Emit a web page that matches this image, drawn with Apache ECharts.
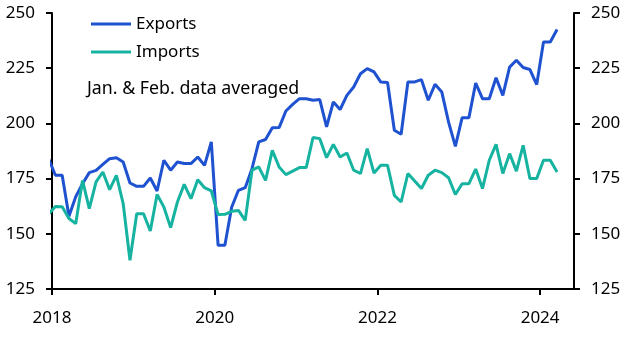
<!DOCTYPE html>
<html>
<head>
<meta charset="utf-8">
<script src="https://cdn.jsdelivr.net/npm/echarts@6/dist/echarts.min.js"></script>
<style>
html,body{margin:0;padding:0;background:#fff;}
#chart{width:625px;height:338px;}
</style>
</head>
<body>
<div id="chart"></div>
<script>
// Monthly data (Jan & Feb averaged each year)
const months = [
  '2017-12',
  '2018-01','2018-02','2018-03','2018-04','2018-05','2018-06','2018-07','2018-08','2018-09','2018-10','2018-11','2018-12',
  '2019-01','2019-02','2019-03','2019-04','2019-05','2019-06','2019-07','2019-08','2019-09','2019-10','2019-11','2019-12',
  '2020-01','2020-02','2020-03','2020-04','2020-05','2020-06','2020-07','2020-08','2020-09','2020-10','2020-11','2020-12',
  '2021-01','2021-02','2021-03','2021-04','2021-05','2021-06','2021-07','2021-08','2021-09','2021-10','2021-11','2021-12',
  '2022-01','2022-02','2022-03','2022-04','2022-05','2022-06','2022-07','2022-08','2022-09','2022-10','2022-11','2022-12',
  '2023-01','2023-02','2023-03','2023-04','2023-05','2023-06','2023-07','2023-08','2023-09','2023-10','2023-11','2023-12',
  '2024-01','2024-02','2024-03'
];
const exportsVals = [
  184,
  176.5,176.5,158,166.8,172.7,177.7,178.7,181.4,184,184.4,182.5,173,
  171.5,171.5,175.3,169.4,183.3,178.8,182.5,181.8,181.8,184.8,181,191.6,
  144.8,144.8,162,169.7,170.9,179.5,191.6,192.7,198,198.1,205.6,208.6,
  211.2,211.2,210.5,210.8,198.4,209.7,206.3,212.7,216.5,222.5,224.8,223.3,
  218.7,218.5,196.9,195.1,218.8,218.8,219.8,210.5,217.7,214.2,200.6,189.6,
  202.6,202.6,218.3,211.2,211.2,220.7,212.7,225.5,228.6,225.3,224.4,217.6,
  236.9,236.9,242.5
];
const importsVals = [
  159,
  162.4,162.3,156.9,154.6,174.2,161.4,173.5,178,170,176.5,163.7,138,
  159.1,159.1,151.3,167.8,162.1,152.8,164.4,172.4,165.9,174.5,170.9,169.4,
  158.7,158.8,160.2,160.6,156.1,178.8,180.3,174.2,187.8,180.3,176.8,178.4,
  180,180,193.6,193.1,184.5,190.5,184.8,186.6,178.8,177.3,188.6,177.5,
  181,181,167.4,164.4,177.3,173.9,170.5,176.5,178.8,177.7,175.4,167.8,
  172.7,172.7,179.3,170.5,183.3,190.5,177.3,186.3,178.4,190.1,175,175,
  183.3,183.3,178
];
const seriesNames = ['Exports', 'Imports'];
const xTicks = [2018, 2020, 2022, 2024];
const yTicks = [125, 150, 175, 200, 225, 250];
const note = 'Jan. & Feb. data averaged';

// month string -> decimal year at mid-month
function toYear(m) {
  const [y, mo] = m.split('-').map(Number);
  return y + (mo - 0.5) / 12;
}
const pairs = vals => months.map((m, i) => [toYear(m), vals[i]]);

const FONT = 'Noto Sans';
const TXT = '#000';
const yAxisBase = {
  type: 'value', min: 125, max: 250, interval: 25,
  axisLine: { show: true, lineStyle: { color: '#000', width: 2 } },
  axisTick: { show: true, inside: false, length: 6, lineStyle: { color: '#000', width: 2 } },
  axisLabel: { color: TXT, fontSize: 17, fontFamily: FONT, margin: 17 },
  splitLine: { show: false }
};

const chart = echarts.init(document.getElementById('chart'), null, { renderer: 'canvas' });
chart.setOption({
  animation: false,
  backgroundColor: '#fff',
  grid: { left: 52, right: 51, top: 13, bottom: 49, containLabel: false },
  legend: {
    show: true, left: 91, top: 15, orient: 'vertical', padding: 0,
    icon: 'rect', itemWidth: 40, itemHeight: 3, itemGap: 10,
    textStyle: { color: TXT, fontSize: 17, fontFamily: FONT, lineHeight: 18 },
    data: seriesNames
  },
  xAxis: {
    type: 'value', min: 2018, max: 2024 + 5 / 12,
    axisLine: { show: true, onZero: false, lineStyle: { color: '#000', width: 2 } },
    axisTick: { show: true, length: 6, customValues: xTicks, lineStyle: { color: '#000', width: 2 } },
    axisLabel: { color: TXT, fontSize: 17, fontFamily: FONT, margin: 21, customValues: xTicks,
                 formatter: v => String(Math.round(v)) },
    splitLine: { show: false }
  },
  yAxis: [
    Object.assign({}, yAxisBase, { position: 'left' }),
    Object.assign({}, yAxisBase, { position: 'right' })
  ],
  graphic: [{
    type: 'text', left: 87, top: 80,
    style: { text: note, fill: TXT, fontSize: 17.8, fontFamily: FONT }
  }],
  series: [
    {
      name: seriesNames[0], type: 'line', data: pairs(exportsVals),
      showSymbol: false, symbol: 'none', clip: true,
      lineStyle: { color: '#1f52d0', width: 3 }, itemStyle: { color: '#1f52d0' }
    },
    {
      name: seriesNames[1], type: 'line', data: pairs(importsVals),
      showSymbol: false, symbol: 'none', clip: true,
      lineStyle: { color: '#16b3a1', width: 3 }, itemStyle: { color: '#16b3a1' }
    }
  ]
});
</script>
</body>
</html>
